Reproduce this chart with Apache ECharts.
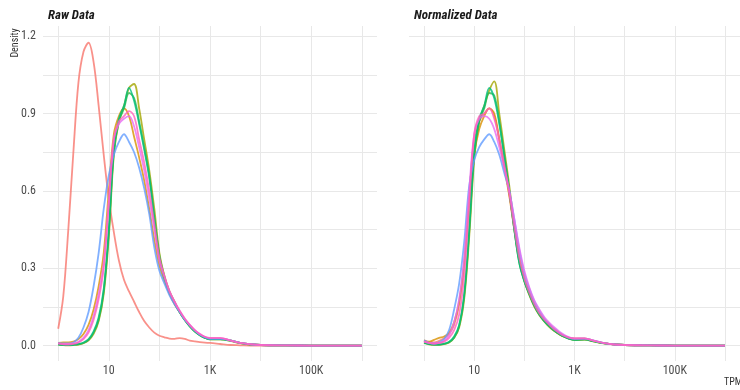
<!DOCTYPE html>
<html>
<head>
<meta charset="utf-8">
<script src="https://cdn.jsdelivr.net/npm/echarts@6/dist/echarts.min.js"></script>
<style>
    html, body { margin: 0; padding: 0; background: #fff; }
    #density-chart { width: 740px; height: 390px; }
</style>
</head>
<body>
<div id="density-chart"></div>
<script>
// x positions are log10(TPM)
var tpmLog = [0, 0.1, 0.2, 0.3, 0.4, 0.5, 0.6, 0.7, 0.8, 0.9,
    1.0, 1.1, 1.2, 1.3, 1.4, 1.5, 1.6, 1.7, 1.8, 1.9,
    2.0, 2.1, 2.2, 2.3, 2.4, 2.5, 2.6, 2.7, 2.8, 2.9,
    3.0, 3.2, 3.4, 3.6, 3.8, 4.0, 4.5, 5.0, 5.5, 6.0];

var xGridVals = [0, 1, 2, 3, 4, 5, 6];
var xLabelVals = [1, 3, 5];
var xLabelText = {1: '10', 3: '1K', 5: '100K'};
var yGridVals = [0, 0.15, 0.3, 0.45, 0.6, 0.75, 0.9, 1.05, 1.2];
var yLabelVals = [0, 0.3, 0.6, 0.9, 1.2];

var sampleNames = ['S1', 'S2', 'S3', 'S4', 'S5', 'S6', 'S7', 'S8'];
var sampleColors = ['#F8766D', '#D89000', '#A3A500', '#2DB84A', '#00BF7D', '#619CFF', '#E76BF3', '#FF62BC'];

// Raw data densities
var rawS1 = [0.065, 0.19, 0.45, 0.75, 1.02, 1.14, 1.175, 1.10, 0.93, 0.74, 0.57, 0.44, 0.33, 0.255, 0.21, 0.17, 0.13, 0.095, 0.07, 0.05, 0.038, 0.032, 0.027, 0.026, 0.029, 0.026, 0.019, 0.016, 0.013, 0.011, 0.01, 0.006, 0.002, 0.001, 0, 0, 0, 0, 0, 0];
var rawS2 = [0.01, 0.012, 0.012, 0.015, 0.025, 0.045, 0.08, 0.14, 0.23, 0.36, 0.6, 0.82, 0.89, 0.92, 0.89, 0.81, 0.73, 0.64, 0.53, 0.41, 0.31, 0.25, 0.2, 0.16, 0.13, 0.1, 0.077, 0.057, 0.042, 0.032, 0.026, 0.026, 0.02, 0.01, 0.005, 0.002, 0.0005, 0, 0, 0];
var rawS3 = [0.005, 0.002, 0.001, 0.002, 0.004, 0.009, 0.02, 0.045, 0.095, 0.2, 0.42, 0.74, 0.87, 0.93, 1.0, 1.015, 0.92, 0.8, 0.68, 0.53, 0.36, 0.27, 0.21, 0.17, 0.13, 0.1, 0.075, 0.055, 0.04, 0.03, 0.024, 0.024, 0.018, 0.009, 0.004, 0.002, 0.0005, 0, 0, 0];
var rawS4 = [0.004, 0.002, 0.002, 0.003, 0.005, 0.01, 0.022, 0.05, 0.1, 0.21, 0.44, 0.75, 0.87, 0.92, 0.98, 0.96, 0.87, 0.77, 0.66, 0.5, 0.35, 0.265, 0.205, 0.165, 0.13, 0.1, 0.074, 0.054, 0.04, 0.03, 0.024, 0.024, 0.019, 0.009, 0.004, 0.002, 0.0005, 0, 0, 0];
var rawS5 = [0.005, 0.003, 0.002, 0.003, 0.006, 0.012, 0.025, 0.055, 0.11, 0.22, 0.45, 0.76, 0.88, 0.93, 1.0, 0.95, 0.86, 0.76, 0.65, 0.49, 0.34, 0.26, 0.205, 0.165, 0.13, 0.1, 0.075, 0.055, 0.04, 0.03, 0.025, 0.025, 0.02, 0.01, 0.005, 0.002, 0.0005, 0, 0, 0];
var rawS6 = [0.01, 0.008, 0.008, 0.012, 0.03, 0.07, 0.13, 0.23, 0.36, 0.53, 0.66, 0.74, 0.79, 0.82, 0.79, 0.75, 0.69, 0.61, 0.51, 0.38, 0.29, 0.24, 0.195, 0.16, 0.13, 0.1, 0.078, 0.058, 0.042, 0.032, 0.026, 0.026, 0.02, 0.01, 0.005, 0.002, 0.0005, 0, 0, 0];
var rawS7 = [0.008, 0.006, 0.006, 0.008, 0.015, 0.03, 0.06, 0.115, 0.2, 0.32, 0.56, 0.8, 0.86, 0.88, 0.89, 0.85, 0.77, 0.68, 0.57, 0.45, 0.33, 0.265, 0.21, 0.17, 0.135, 0.105, 0.08, 0.06, 0.045, 0.034, 0.029, 0.029, 0.02, 0.01, 0.005, 0.002, 0.0005, 0, 0, 0];
var rawS8 = [0.008, 0.005, 0.004, 0.006, 0.012, 0.025, 0.05, 0.1, 0.18, 0.3, 0.55, 0.8, 0.87, 0.89, 0.91, 0.89, 0.8, 0.71, 0.6, 0.47, 0.34, 0.27, 0.21, 0.17, 0.135, 0.105, 0.08, 0.06, 0.045, 0.034, 0.03, 0.03, 0.02, 0.01, 0.005, 0.002, 0.0005, 0, 0, 0];

// Normalized data densities
var normS1 = [0.02, 0.012, 0.012, 0.018, 0.028, 0.045, 0.08, 0.16, 0.31, 0.58, 0.8, 0.87, 0.9, 0.92, 0.89, 0.8, 0.7, 0.59, 0.46, 0.34, 0.26, 0.205, 0.16, 0.125, 0.1, 0.08, 0.062, 0.048, 0.037, 0.03, 0.028, 0.028, 0.018, 0.009, 0.004, 0.002, 0.0005, 0, 0, 0];
var normS2 = [0.02, 0.015, 0.022, 0.03, 0.035, 0.05, 0.09, 0.17, 0.32, 0.55, 0.74, 0.84, 0.89, 0.92, 0.9, 0.8, 0.69, 0.58, 0.45, 0.33, 0.255, 0.2, 0.155, 0.12, 0.095, 0.074, 0.057, 0.044, 0.034, 0.027, 0.023, 0.024, 0.016, 0.008, 0.004, 0.002, 0.0005, 0, 0, 0];
var normS3 = [0.01, 0.005, 0.003, 0.003, 0.006, 0.012, 0.03, 0.07, 0.18, 0.42, 0.72, 0.87, 0.93, 0.99, 1.025, 0.9, 0.76, 0.62, 0.46, 0.33, 0.25, 0.195, 0.15, 0.118, 0.093, 0.072, 0.056, 0.043, 0.033, 0.026, 0.022, 0.023, 0.015, 0.008, 0.004, 0.002, 0.0005, 0, 0, 0];
var normS4 = [0.01, 0.006, 0.004, 0.004, 0.006, 0.013, 0.03, 0.075, 0.19, 0.44, 0.74, 0.87, 0.92, 0.98, 0.97, 0.87, 0.74, 0.6, 0.45, 0.32, 0.25, 0.2, 0.155, 0.12, 0.095, 0.074, 0.057, 0.044, 0.034, 0.026, 0.022, 0.024, 0.016, 0.008, 0.004, 0.002, 0.0005, 0, 0, 0];
var normS5 = [0.012, 0.006, 0.004, 0.004, 0.007, 0.015, 0.035, 0.08, 0.2, 0.45, 0.75, 0.88, 0.93, 1.0, 0.96, 0.86, 0.73, 0.6, 0.45, 0.32, 0.25, 0.2, 0.155, 0.12, 0.095, 0.075, 0.058, 0.045, 0.034, 0.026, 0.022, 0.024, 0.016, 0.008, 0.004, 0.002, 0.0005, 0, 0, 0];
var normS6 = [0.02, 0.01, 0.008, 0.012, 0.025, 0.06, 0.14, 0.24, 0.4, 0.62, 0.72, 0.77, 0.8, 0.82, 0.79, 0.74, 0.67, 0.6, 0.49, 0.37, 0.28, 0.22, 0.17, 0.135, 0.105, 0.083, 0.065, 0.05, 0.038, 0.03, 0.026, 0.027, 0.018, 0.009, 0.004, 0.002, 0.0005, 0, 0, 0];
var normS7 = [0.015, 0.01, 0.008, 0.01, 0.018, 0.04, 0.09, 0.18, 0.34, 0.6, 0.82, 0.88, 0.89, 0.88, 0.84, 0.77, 0.69, 0.6, 0.49, 0.38, 0.29, 0.225, 0.175, 0.14, 0.11, 0.088, 0.07, 0.054, 0.041, 0.032, 0.027, 0.027, 0.018, 0.009, 0.004, 0.002, 0.0005, 0, 0, 0];
var normS8 = [0.015, 0.01, 0.008, 0.01, 0.015, 0.03, 0.06, 0.12, 0.27, 0.55, 0.82, 0.89, 0.9, 0.92, 0.88, 0.8, 0.7, 0.59, 0.46, 0.34, 0.26, 0.205, 0.16, 0.125, 0.1, 0.08, 0.062, 0.048, 0.037, 0.03, 0.028, 0.028, 0.018, 0.009, 0.004, 0.002, 0.0005, 0, 0, 0];

var rawData = [rawS1, rawS2, rawS3, rawS4, rawS5, rawS6, rawS7, rawS8];
var normData = [normS1, normS2, normS3, normS4, normS5, normS6, normS7, normS8];

var fontName = '"Roboto Condensed", "Liberation Sans Narrow", Roboto, sans-serif';
var densityChart = echarts.init(document.getElementById('density-chart'));

function makeXAxis(gridIndex) {
    return {
        type: 'value',
        gridIndex: gridIndex,
        min: -0.3,
        max: 6.3,
        axisLine: { show: false },
        axisTick: { show: false, customValues: xGridVals },
        axisLabel: {
            customValues: xLabelVals,
            margin: 4,
            fontSize: 12,
            fontFamily: fontName,
            color: '#4d4d4d',
            formatter: function(v) {
                return xLabelText[Math.round(v)] || '';
            }
        },
        splitLine: { show: true, lineStyle: { color: '#e8e8e8', width: 1 } }
    };
}

function makeYAxis(gridIndex, showLabels) {
    return {
        type: 'value',
        gridIndex: gridIndex,
        min: -0.06,
        max: 1.24,
        axisLine: { show: false },
        axisTick: { show: false, customValues: yGridVals },
        axisLabel: {
            show: showLabels,
            customValues: yLabelVals,
            margin: 7,
            fontSize: 12,
            fontFamily: fontName,
            color: '#4d4d4d',
            formatter: function(v) {
                return v.toFixed(1);
            }
        },
        splitLine: { show: true, lineStyle: { color: '#e8e8e8', width: 1 } }
    };
}

function makeSeries(values, i, gridIndex) {
    var pts = [];
    for (var k = 0; k < tpmLog.length; k++) {
        pts.push([tpmLog[k], values[k]]);
    }
    return {
        name: sampleNames[i],
        type: 'line',
        xAxisIndex: gridIndex,
        yAxisIndex: gridIndex,
        data: pts,
        smooth: 0.35,
        showSymbol: false,
        silent: true,
        lineStyle: { color: sampleColors[i], width: 1.8, opacity: 0.8 },
        itemStyle: { color: sampleColors[i] }
    };
}

var series = [];
for (var i = 0; i < rawData.length; i++) {
    series.push(makeSeries(rawData[i], i, 0));
}
for (var j = 0; j < normData.length; j++) {
    series.push(makeSeries(normData[j], j, 1));
}

densityChart.setOption({
    animation: false,
    title: [{
        text: 'Raw Data',
        left: 48,
        top: 9,
        padding: 0,
        textStyle: { fontSize: 13, fontWeight: 'bold', fontStyle: 'italic', color: '#1a1a1a', fontFamily: fontName }
    }, {
        text: 'Normalized Data',
        left: 414,
        top: 9,
        padding: 0,
        textStyle: { fontSize: 13, fontWeight: 'bold', fontStyle: 'italic', color: '#1a1a1a', fontFamily: fontName }
    }],
    grid: [
        { left: 43, top: 26, width: 334, height: 335 },
        { left: 409, top: 26, width: 334, height: 335 }
    ],
    xAxis: [makeXAxis(0), makeXAxis(1)],
    yAxis: [makeYAxis(0, true), makeYAxis(1, false)],
    graphic: [{
        type: 'text',
        x: 15,
        y: 43,
        rotation: Math.PI / 2,
        style: {
            text: 'Density',
            fontSize: 10,
            fontFamily: fontName,
            fill: '#333',
            align: 'center',
            verticalAlign: 'middle'
        }
    }, {
        type: 'text',
        left: 724,
        top: 377,
        style: {
            text: 'TPM',
            fontSize: 10,
            fontFamily: fontName,
            fill: '#333'
        }
    }],
    series: series
});
</script>
</body>
</html>
